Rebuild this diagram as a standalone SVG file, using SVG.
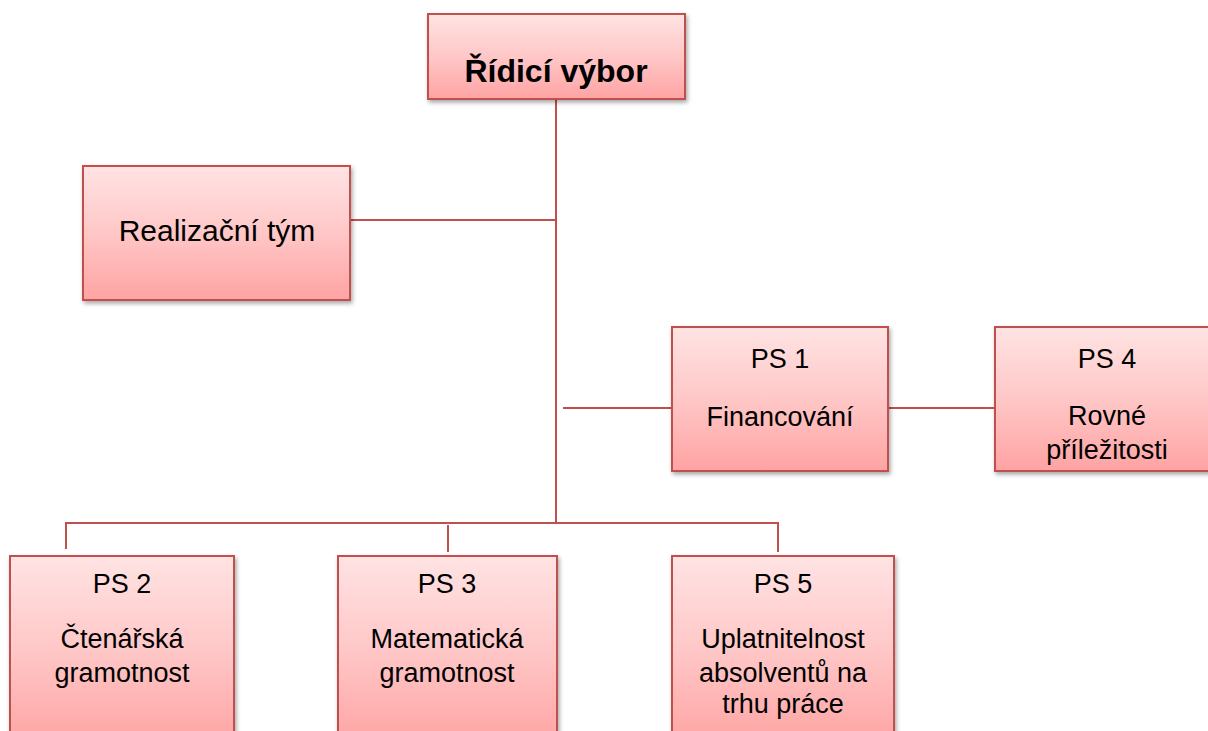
<svg xmlns="http://www.w3.org/2000/svg" width="1208" height="731" viewBox="0 0 1208 731">
<defs>
<linearGradient id="g" x1="0" y1="0" x2="0" y2="1">
<stop offset="0" stop-color="#FFE3E3"/>
<stop offset="0.5" stop-color="#FFC7C7"/>
<stop offset="1" stop-color="#FFA3A3"/>
</linearGradient>
<filter id="sh" x="-10%" y="-10%" width="125%" height="125%">
<feDropShadow dx="1.5" dy="2.5" stdDeviation="2" flood-color="#000" flood-opacity="0.35"/>
</filter>
</defs>
<style>
.box{fill:url(#g);stroke:#C0504D;stroke-width:2;filter:url(#sh)}
.t{font-family:"Liberation Sans",Arial,sans-serif;font-size:27px;fill:#000;text-anchor:middle}
.b{font-weight:bold;font-size:32px}
.l{font-size:30px}
.c{fill:none;stroke:#C0504D;stroke-width:2}
</style>
<g id="connectors">
<path class="c" d="M556 99V523"/>
<path class="c" d="M350 220H556"/>
<path class="c" d="M563 408H672"/>
<path class="c" d="M888 408H995"/>
<path class="c" d="M66 549V523H778V552"/>
<path class="c" d="M448 525V552"/>
</g>
<g id="ridici">
<rect class="box" x="428" y="14" width="257" height="85"/>
<text class="t b" x="556" y="82">Řídicí výbor</text>
</g>
<g id="realizacni">
<rect class="box" x="83" y="166" width="267" height="134"/>
<text class="t l" x="217" y="241">Realizační tým</text>
</g>
<g id="ps1">
<rect class="box" x="672" y="327" width="216" height="144"/>
<text class="t" x="780" y="368">PS 1</text>
<text class="t" x="780" y="426">Financování</text>
</g>
<g id="ps4">
<rect class="box" x="995" y="327" width="224" height="144"/>
<text class="t" x="1107" y="368">PS 4</text>
<text class="t" x="1107" y="425">Rovné</text>
<text class="t" x="1107" y="459">příležitosti</text>
</g>
<g id="ps2">
<rect class="box" x="10" y="556" width="224" height="190"/>
<text class="t" x="122" y="593">PS 2</text>
<text class="t" x="122" y="648">Čtenářská</text>
<text class="t" x="122" y="682">gramotnost</text>
</g>
<g id="ps3">
<rect class="box" x="338" y="556" width="219" height="190"/>
<text class="t" x="447" y="593">PS 3</text>
<text class="t" x="447" y="648">Matematická</text>
<text class="t" x="447" y="682">gramotnost</text>
</g>
<g id="ps5">
<rect class="box" x="672" y="556" width="222" height="190"/>
<text class="t" x="783" y="593">PS 5</text>
<text class="t" x="783" y="648">Uplatnitelnost</text>
<text class="t" x="783" y="682">absolventů na</text>
<text class="t" x="783" y="713">trhu práce</text>
</g>
</svg>
